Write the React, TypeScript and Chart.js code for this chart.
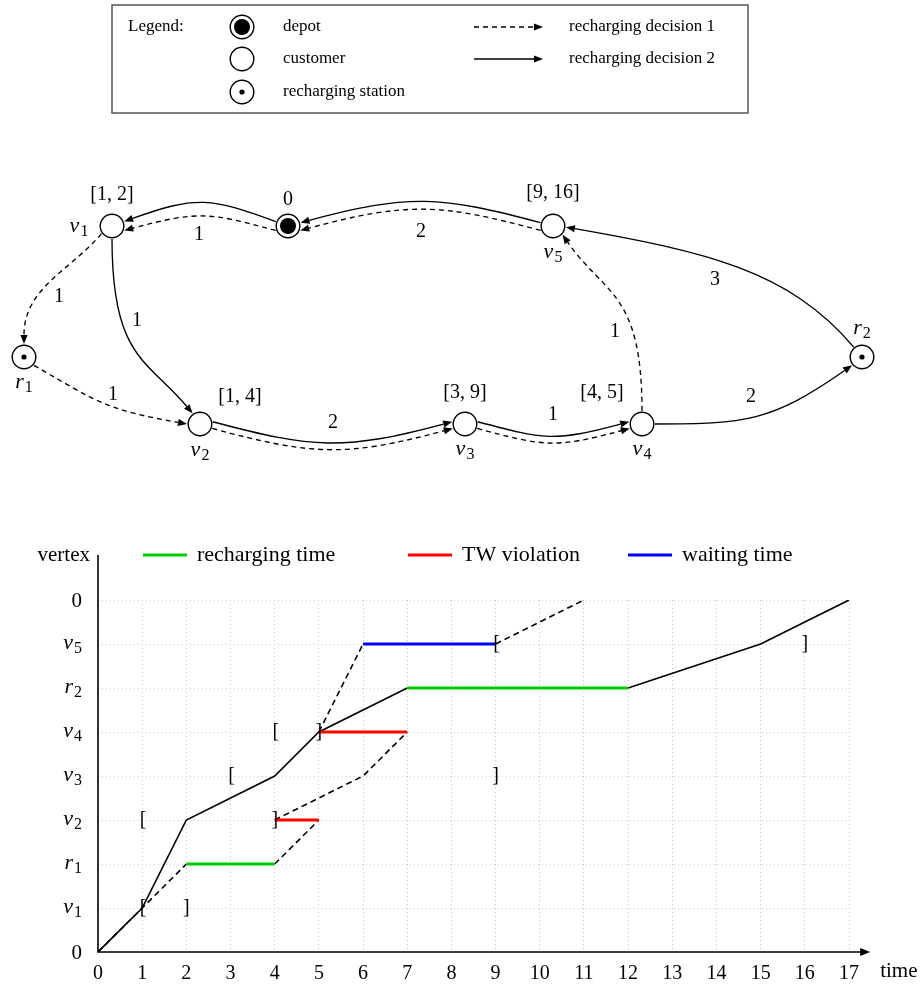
import React, { useEffect, useRef } from "react";
import { Chart, registerables } from "chart.js";
Chart.register(...registerables);

const SERIF = '"Liberation Serif", "Times New Roman", serif';

// ---------------- network data ----------------
const nodeIds = ["0", "v1", "v2", "v3", "v4", "v5", "r1", "r2"];
const nodeKinds = ["depot", "customer", "customer", "customer", "customer", "customer", "station", "station"];
const nodeX = [288, 112, 200, 465, 642, 553, 24, 862];
const nodeY = [226, 226, 424, 424, 424, 226, 357, 357];
const nodeWindows = ["", "[1, 2]", "[1, 4]", "[3, 9]", "[4, 5]", "[9, 16]", "", ""];

// recharging decision 2 (solid)
const route2From = ["0", "v1", "v2", "v3", "v4", "r2", "v5"];
const route2To = ["v1", "v2", "v3", "v4", "r2", "v5", "0"];
const route2Cost = [1, 1, 2, 1, 2, 3, 2];
// recharging decision 1 (dashed)
const route1From = ["0", "v1", "r1", "v2", "v3", "v4", "v5"];
const route1To = ["v1", "r1", "v2", "v3", "v4", "v5", "0"];
const route1Cost = [1, 1, 1, 2, 1, 1, 2];

const legendSymbols = ["depot", "customer", "recharging station"];
const legendRoutes = ["recharging decision 1", "recharging decision 2"];

// ---------------- timeline data ----------------
const vertexRows = ["0", "v1", "r1", "v2", "v3", "v4", "r2", "v5", "0"];
const timeMax = 17;
const route2Times = [0, 1, 2, 4, 5, 7, null, 12, 15, 17];
const route2Rows = [0, 1, 3, 4, 5, 6, null, 6, 7, 8];
const route1Times = [0, 2, null, 4, 5, null, 4, 6, 7, null, 5, 6, null, 9, 11];
const route1Rows = [0, 2, null, 2, 3, null, 3, 4, 5, null, 5, 7, null, 7, 8];
const rechargeStart = [2, 7];
const rechargeEnd = [4, 12];
const rechargeRow = [2, 6];
const violationStart = [4, 5];
const violationEnd = [5, 7];
const violationRow = [3, 5];
const waitStart = [6];
const waitEnd = [9];
const waitRow = [7];
const twRows = [1, 3, 4, 5, 7];
const twOpen = [1, 1, 3, 4, 9];
const twClose = [2, 4, 9, 5, 16];

// ---------------- layout (positions / geometry, not data) ----------------
const nameOffset: [number, number][] = [[0, -28], [-33, 1], [0, 27], [0, 26], [0, 26], [0, 27], [0, 26], [0, -28]];
const windowOffset: [number, number][] = [[0, 0], [0, -31], [40, -27], [0, -31], [-40, -31], [0, -33], [0, 0], [0, 0]];
// [startAnchor, startDir, endAnchor, endDir(back along curve), kOut, kIn]
const route2Geom: number[][] = [
  [160, 160, 20, 20, 0.39, 0.39],
  [270, 270, 125, 130, 0.55, 0.28],
  [10, -15, 170, 195, 0.39, 0.39],
  [10, -15, 170, 195, 0.39, 0.39],
  [0, 0, 220, 215, 0.39, 0.39],
  [130, 130, -5, -10, 0.3, 0.39],
  [165, 165, 15, 15, 0.39, 0.39],
];
const route1Geom: number[][] = [
  [200, 165, -20, 15, 0.39, 0.39],
  [216, 230, 90, 90, 0.3, 0.3],
  [-40, -30, 180, 170, 0.39, 0.39],
  [-20, -15, 200, 195, 0.39, 0.39],
  [-20, -15, 200, 195, 0.39, 0.39],
  [90, 90, -43, -55, 0.55, 0.3],
  [200, 165, -20, 15, 0.39, 0.39],
];
const route2LabelAt: ([number, number] | null)[] = [null, [137, 321], [333, 423], [553, 415], [751, 397], [715, 280], null];
const route1LabelAt: ([number, number] | null)[] = [[199, 235], [59, 297], [113, 395], null, null, [615, 332], [421, 232]];

function drawMath(ctx: CanvasRenderingContext2D, text: string, x: number, y: number, size: number, align: "left" | "center" | "right") {
  const m = /^([a-z])(\d+)$/.exec(text);
  ctx.textAlign = "left";
  ctx.textBaseline = "alphabetic";
  if (!m) {
    ctx.font = `${size}px ${SERIF}`;
    const w = ctx.measureText(text).width;
    const x0 = align === "left" ? x : align === "center" ? x - w / 2 : x - w;
    ctx.fillText(text, x0, y + size * 0.33);
    return;
  }
  const main = `italic ${size}px ${SERIF}`;
  const subSize = Math.round(size * 0.72);
  const sub = `${subSize}px ${SERIF}`;
  ctx.font = main;
  const w1 = ctx.measureText(m[1]).width;
  ctx.font = sub;
  const w2 = ctx.measureText(m[2]).width;
  const total = w1 + w2 + 1;
  const x0 = align === "left" ? x : align === "center" ? x - total / 2 : x - total;
  ctx.font = main;
  ctx.fillText(m[1], x0, y + size * 0.22);
  ctx.font = sub;
  ctx.fillText(m[2], x0 + w1 + 1, y + size * 0.22 + size * 0.2);
}

const R_EDGE = 13;
function drawEdge(ctx: CanvasRenderingContext2D, a: number[], b: number[], g: number[], dashed: boolean) {
  const [sa, so, ea, eo, ko, ki] = g;
  const u = (deg: number) => [Math.cos((deg * Math.PI) / 180), -Math.sin((deg * Math.PI) / 180)];
  const d = Math.hypot(b[0] - a[0], b[1] - a[1]);
  const s = u(sa), e = u(ea), o = u(so), n = u(eo);
  const p0 = [a[0] + R_EDGE * s[0], a[1] + R_EDGE * s[1]];
  const p3 = [b[0] + R_EDGE * e[0], b[1] + R_EDGE * e[1]];
  const AH = 9, AW = 3.6;
  const base = [p3[0] + AH * n[0], p3[1] + AH * n[1]];
  const p1 = [p0[0] + ko * d * o[0], p0[1] + ko * d * o[1]];
  const p2 = [base[0] + ki * d * n[0], base[1] + ki * d * n[1]];
  ctx.setLineDash(dashed ? [5, 4] : []);
  ctx.beginPath();
  ctx.moveTo(p0[0], p0[1]);
  ctx.bezierCurveTo(p1[0], p1[1], p2[0], p2[1], base[0], base[1]);
  ctx.stroke();
  ctx.setLineDash([]);
  drawArrowHead(ctx, p3[0], p3[1], -n[0], -n[1], AH, AW);
}

function drawArrowHead(ctx: CanvasRenderingContext2D, tx: number, ty: number, dx: number, dy: number, len: number, half: number) {
  const bx = tx - dx * len, by = ty - dy * len;
  const px = -dy, py = dx;
  ctx.beginPath();
  ctx.moveTo(tx, ty);
  ctx.lineTo(bx + half * px, by + half * py);
  ctx.lineTo(bx - half * px, by - half * py);
  ctx.closePath();
  ctx.fill();
}

function drawNodeSymbol(ctx: CanvasRenderingContext2D, kind: string, x: number, y: number) {
  ctx.beginPath();
  ctx.arc(x, y, 11.8, 0, Math.PI * 2);
  ctx.fillStyle = "#fff";
  ctx.fill();
  ctx.lineWidth = 1.4;
  ctx.strokeStyle = "#000";
  ctx.stroke();
  ctx.fillStyle = "#000";
  if (kind === "depot") {
    ctx.beginPath();
    ctx.arc(x, y, 8, 0, Math.PI * 2);
    ctx.fill();
  } else if (kind === "station") {
    ctx.beginPath();
    ctx.arc(x, y, 2.6, 0, Math.PI * 2);
    ctx.fill();
  }
}

const graphPlugin = {
  id: "graphDecor",
  beforeDatasetsDraw(chart: any) {
    const ctx: CanvasRenderingContext2D = chart.ctx;
    const xs = chart.scales.x, ys = chart.scales.y;
    const P = (id: string) => {
      const i = nodeIds.indexOf(id);
      return [xs.getPixelForValue(nodeX[i]), ys.getPixelForValue(nodeY[i])];
    };
    ctx.save();
    ctx.strokeStyle = "#000";
    ctx.fillStyle = "#000";
    ctx.lineWidth = 1.35;
    route1From.forEach((f, i) => drawEdge(ctx, P(f), P(route1To[i]), route1Geom[i], true));
    route2From.forEach((f, i) => drawEdge(ctx, P(f), P(route2To[i]), route2Geom[i], false));
    ctx.restore();
  },
  afterDatasetsDraw(chart: any) {
    const ctx: CanvasRenderingContext2D = chart.ctx;
    const xs = chart.scales.x, ys = chart.scales.y;
    ctx.save();
    ctx.fillStyle = "#000";
    // node names and time windows
    nodeIds.forEach((id, i) => {
      const px = xs.getPixelForValue(nodeX[i]);
      const py = ys.getPixelForValue(nodeY[i]);
      drawMath(ctx, id, px + nameOffset[i][0], py + nameOffset[i][1], id === "0" ? 20 : 22, "center");
      if (nodeWindows[i]) {
        ctx.font = `20px ${SERIF}`;
        ctx.textAlign = "center";
        ctx.textBaseline = "middle";
        ctx.fillText(nodeWindows[i], px + windowOffset[i][0], py + windowOffset[i][1]);
      }
    });
    // edge costs
    ctx.font = `20px ${SERIF}`;
    ctx.textAlign = "center";
    ctx.textBaseline = "middle";
    route2Cost.forEach((c, i) => {
      const at = route2LabelAt[i];
      if (at) ctx.fillText(String(c), xs.getPixelForValue(at[0]), ys.getPixelForValue(at[1]));
    });
    route1Cost.forEach((c, i) => {
      const at = route1LabelAt[i];
      if (at) ctx.fillText(String(c), xs.getPixelForValue(at[0]), ys.getPixelForValue(at[1]));
    });

    // legend box
    ctx.strokeStyle = "#555";
    ctx.lineWidth = 1.5;
    ctx.strokeRect(112, 5, 636, 108);
    ctx.fillStyle = "#000";
    ctx.font = `17px ${SERIF}`;
    ctx.textAlign = "left";
    ctx.textBaseline = "middle";
    ctx.fillText("Legend:", 128, 27);
    const kinds = ["depot", "customer", "station"];
    const rowsY = [27, 59, 92];
    legendSymbols.forEach((t, i) => {
      drawNodeSymbol(ctx, kinds[i], 242, rowsY[i]);
      ctx.fillStyle = "#000";
      ctx.font = `17px ${SERIF}`;
      ctx.textAlign = "left";
      ctx.textBaseline = "middle";
      ctx.fillText(t, 283, rowsY[i]);
    });
    legendRoutes.forEach((t, i) => {
      const y = rowsY[i];
      ctx.strokeStyle = "#000";
      ctx.lineWidth = 1.4;
      ctx.setLineDash(i === 0 ? [5, 4] : []);
      ctx.beginPath();
      ctx.moveTo(474, y);
      ctx.lineTo(534, y);
      ctx.stroke();
      ctx.setLineDash([]);
      ctx.fillStyle = "#000";
      drawArrowHead(ctx, 543, y, 1, 0, 9, 3.6);
      ctx.font = `17px ${SERIF}`;
      ctx.textAlign = "left";
      ctx.textBaseline = "middle";
      ctx.fillText(t, 569, y);
    });
    ctx.restore();
  },
};

function GraphChart() {
  const ref = useRef<HTMLCanvasElement>(null);
  useEffect(() => {
    const canvas = ref.current!;
    const pts = (kind?: string) =>
      nodeIds
        .map((_, i) => ({ x: nodeX[i], y: nodeY[i], k: nodeKinds[i] }))
        .filter((p) => !kind || p.k === kind)
        .map((p) => ({ x: p.x, y: p.y }));
    const chart = new Chart(canvas, {
      type: "scatter",
      data: {
        datasets: [
          { label: "depot", data: pts("depot"), pointRadius: 8, pointBackgroundColor: "#000", pointBorderWidth: 0, order: 1 },
          { label: "recharging station", data: pts("station"), pointRadius: 2.6, pointBackgroundColor: "#000", pointBorderWidth: 0, order: 1 },
          { label: "vertex", data: pts(), pointRadius: 11.8, pointBackgroundColor: "#fff", pointBorderColor: "#000", pointBorderWidth: 1.4, order: 2 },
        ],
      },
      options: {
        animation: false,
        responsive: false,
        maintainAspectRatio: false,
        events: [],
        layout: { padding: 0, autoPadding: false },
        plugins: { legend: { display: false }, tooltip: { enabled: false } },
        scales: {
          x: { type: "linear", min: 0, max: 921, display: false },
          y: { type: "linear", min: 0, max: 490, reverse: true, display: false },
        },
      },
      plugins: [graphPlugin],
    } as any);
    return () => chart.destroy();
  }, []);
  return <canvas ref={ref} width={921} height={490} style={{ position: "absolute", left: 0, top: 0, display: "block" }} />;
}

const timePlugin = {
  id: "timeDecor",
  afterDatasetsDraw(chart: any) {
    const ctx: CanvasRenderingContext2D = chart.ctx;
    const x = chart.scales.x, y = chart.scales.y;
    ctx.save();
    const x0 = x.getPixelForValue(0), y0 = y.getPixelForValue(0);
    const xEnd = x.getPixelForValue(timeMax + 0.48);
    const yEnd = y.getPixelForValue(9.02);
    ctx.strokeStyle = "#000";
    ctx.fillStyle = "#000";
    ctx.lineWidth = 1.6;
    ctx.setLineDash([]);
    ctx.beginPath();
    ctx.moveTo(x0, yEnd);
    ctx.lineTo(x0, y0);
    ctx.lineTo(xEnd - 8, y0);
    ctx.stroke();
    drawArrowHead(ctx, xEnd, y0, 1, 0, 10, 4);

    // vertex labels
    vertexRows.forEach((lab, i) => drawMath(ctx, lab, x0 - 16, y.getPixelForValue(i), lab === "0" ? 21 : 22, "right"));

    // axis titles
    ctx.font = `21px ${SERIF}`;
    ctx.textBaseline = "middle";
    ctx.textAlign = "right";
    ctx.fillText("vertex", x0 - 8, yEnd);
    ctx.textAlign = "left";
    ctx.fillText("time", xEnd + 10, y0 + 19);

    // time window brackets
    ctx.font = `20px ${SERIF}`;
    ctx.textAlign = "center";
    ctx.textBaseline = "middle";
    twRows.forEach((r, i) => {
      const py = y.getPixelForValue(r);
      ctx.fillText("[", x.getPixelForValue(twOpen[i]) + 1, py);
      ctx.fillText("]", x.getPixelForValue(twClose[i]), py);
    });

    // legend (first three datasets)
    const legendX = [x0 + 45, x0 + 310, x0 + 530];
    for (let i = 0; i < 3; i++) {
      const ds = chart.data.datasets[i];
      ctx.strokeStyle = ds.borderColor;
      ctx.lineWidth = 3;
      ctx.beginPath();
      ctx.moveTo(legendX[i], yEnd);
      ctx.lineTo(legendX[i] + 44, yEnd);
      ctx.stroke();
      ctx.fillStyle = "#000";
      ctx.font = `22px ${SERIF}`;
      ctx.textAlign = "left";
      ctx.textBaseline = "middle";
      ctx.fillText(ds.label, legendX[i] + 54, yEnd);
    }
    ctx.restore();
  },
};

function TimeChart() {
  const ref = useRef<HTMLCanvasElement>(null);
  useEffect(() => {
    const canvas = ref.current!;
    const toPts = (xs: (number | null)[], ys: (number | null)[]) => xs.map((v, i) => ({ x: v, y: ys[i] }));
    const segs = (s: number[], e: number[], r: number[]) =>
      s.flatMap((v, i) => [{ x: v, y: r[i] }, { x: e[i], y: r[i] }, { x: null, y: null }]);
    const common = { showLine: true, pointRadius: 0, pointHoverRadius: 0, spanGaps: false, fill: false };
    const chart = new Chart(canvas, {
      type: "scatter",
      data: {
        datasets: [
          { ...common, label: "recharging time", data: segs(rechargeStart, rechargeEnd, rechargeRow), borderColor: "#00cc00", borderWidth: 3, order: 1 },
          { ...common, label: "TW violation", data: segs(violationStart, violationEnd, violationRow), borderColor: "#ff0000", borderWidth: 3, order: 1 },
          { ...common, label: "waiting time", data: segs(waitStart, waitEnd, waitRow), borderColor: "#0000ff", borderWidth: 3, order: 1 },
          { ...common, label: "recharging decision 2", data: toPts(route2Times, route2Rows), borderColor: "#000", borderWidth: 1.6, order: 2 },
          { ...common, label: "recharging decision 1", data: toPts(route1Times, route1Rows), borderColor: "#000", borderWidth: 1.6, borderDash: [6, 4], order: 2 },
        ],
      },
      options: {
        animation: false,
        responsive: false,
        maintainAspectRatio: false,
        events: [],
        layout: { padding: { top: 110, right: 72, left: 0, bottom: 0 }, autoPadding: false },
        plugins: { legend: { display: false }, tooltip: { enabled: false } },
        scales: {
          x: {
            type: "linear",
            min: 0,
            max: timeMax,
            position: "bottom",
            ticks: { stepSize: 1, autoSkip: false, maxRotation: 0, color: "#000", padding: 10, font: { family: SERIF, size: 20 } },
            grid: { color: "#c8c8c8", lineWidth: 1, drawTicks: false },
            border: { display: false, dash: [1, 3] },
            afterFit: (s: any) => {
              s.height = 38;
            },
          },
          y: {
            type: "linear",
            min: 0,
            max: vertexRows.length - 1,
            ticks: { stepSize: 1, display: false },
            grid: { color: "#c8c8c8", lineWidth: 1, drawTicks: false },
            border: { display: false, dash: [1, 3] },
            afterFit: (s: any) => {
              s.width = 98;
            },
          },
        },
      },
      plugins: [timePlugin],
    } as any);
    return () => chart.destroy();
  }, []);
  return <canvas ref={ref} width={921} height={500} style={{ position: "absolute", left: 0, top: 490, display: "block" }} />;
}

export default function App() {
  return (
    <div style={{ position: "absolute", left: 0, top: 0, width: 921, height: 990, background: "#fff", overflow: "hidden" }}>
      <GraphChart />
      <TimeChart />
    </div>
  );
}
